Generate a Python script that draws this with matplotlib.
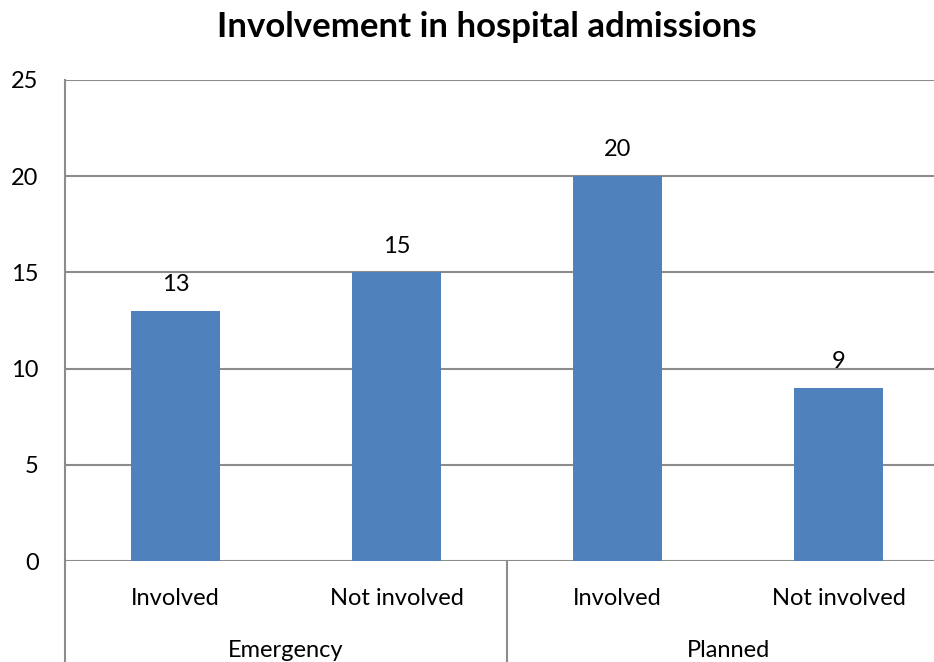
import matplotlib
matplotlib.use("Agg")
import matplotlib.pyplot as plt

plt.rcParams['font.family'] = ['Lato', 'DejaVu Sans']

groups = ["Emergency", "Planned"]
labels = ["Involved", "Not involved", "Involved", "Not involved"]
counts = [13, 15, 20, 9]
yticks = [0, 5, 10, 15, 20, 25]

bar_color = "#4F81BD"
line_color = "#8C8C8C"

fig = plt.figure(figsize=(9.34, 6.62), dpi=100)
W, H = 934, 662
# plot area runs past the right edge of the canvas
ax = fig.add_axes([65 / W, (H - 561) / H, 884 / W, 481 / H])

x = list(range(len(counts)))
ax.bar(x, counts, width=0.4, color=bar_color, zorder=3)
for xi, v in zip(x, counts):
    ax.annotate(str(v), (xi, v), xytext=(0, 19), textcoords="offset points",
                ha="center", va="center", fontsize=17)

ax.set_xlim(-0.5, len(counts) - 0.5)
ax.set_ylim(0, 25)
ax.set_yticks(yticks)
ax.yaxis.grid(True, color=line_color, lw=1.5, zorder=0)
ax.tick_params(axis="y", length=0, pad=19, labelsize=17)
ax.set_xticks([])
for s in ["right", "bottom", "top"]:
    ax.spines[s].set_visible(False)
ax.spines["left"].set_color(line_color)
ax.spines["left"].set_linewidth(1.5)

# category and group labels under the axis
trans = ax.get_xaxis_transform()
for xi, lab in zip(x, labels):
    ax.text(xi, -0.078, lab, transform=trans, ha="center", va="center", fontsize=17)
for gi, g in enumerate(groups):
    ax.text(2 * gi + 0.5, -0.186, g, transform=trans, ha="center", va="center", fontsize=17)
for xb in [-0.5, 1.5, 3.5]:
    ax.plot([xb, xb], [0, -0.21], transform=trans, color=line_color, lw=1.5, clip_on=False)

fig.text(487 / W, 1 - 27 / H, "Involvement in hospital admissions", ha="center", va="center",
         fontsize=25, fontweight="bold")

fig.savefig("out.png", dpi=100)
